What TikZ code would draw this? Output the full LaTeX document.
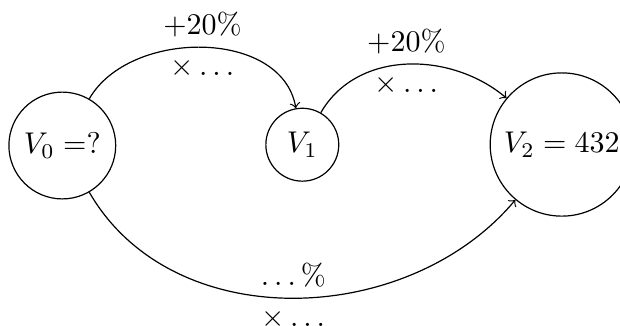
\documentclass[tikz,border=0pt]{standalone}
\begin{document}
\begin{tikzpicture}[x=0.3333pt,y=-0.3333pt,
  state/.style={draw,circle},
  flow/.style={->}]
\useasboundingbox (0,0) rectangle (620,325);
\node[state] (v0) at (62.3,145.5) {$V_0 =$?};
\node[state,minimum size=24.3pt] (v1) at (302.3,144.7) {$V_1$};
\node[state] (v2) at (561.8,144.5) {$V_2 = 432$};
\draw[flow] (v0) to[out=60,in=100]
  node[above] {$+20\%$} node[below] {$\times\ldots$} (v1);
\draw[flow] (v1) to[out=60,in=140]
  node[above] {$+20\%$} node[below] {$\times\ldots$} (v2);
\draw[flow] (v0) to[out=-60,in=-130]
  node[above] {$\ldots\%$} node[below] {$\times\ldots$} (v2);
\end{tikzpicture}
\end{document}
